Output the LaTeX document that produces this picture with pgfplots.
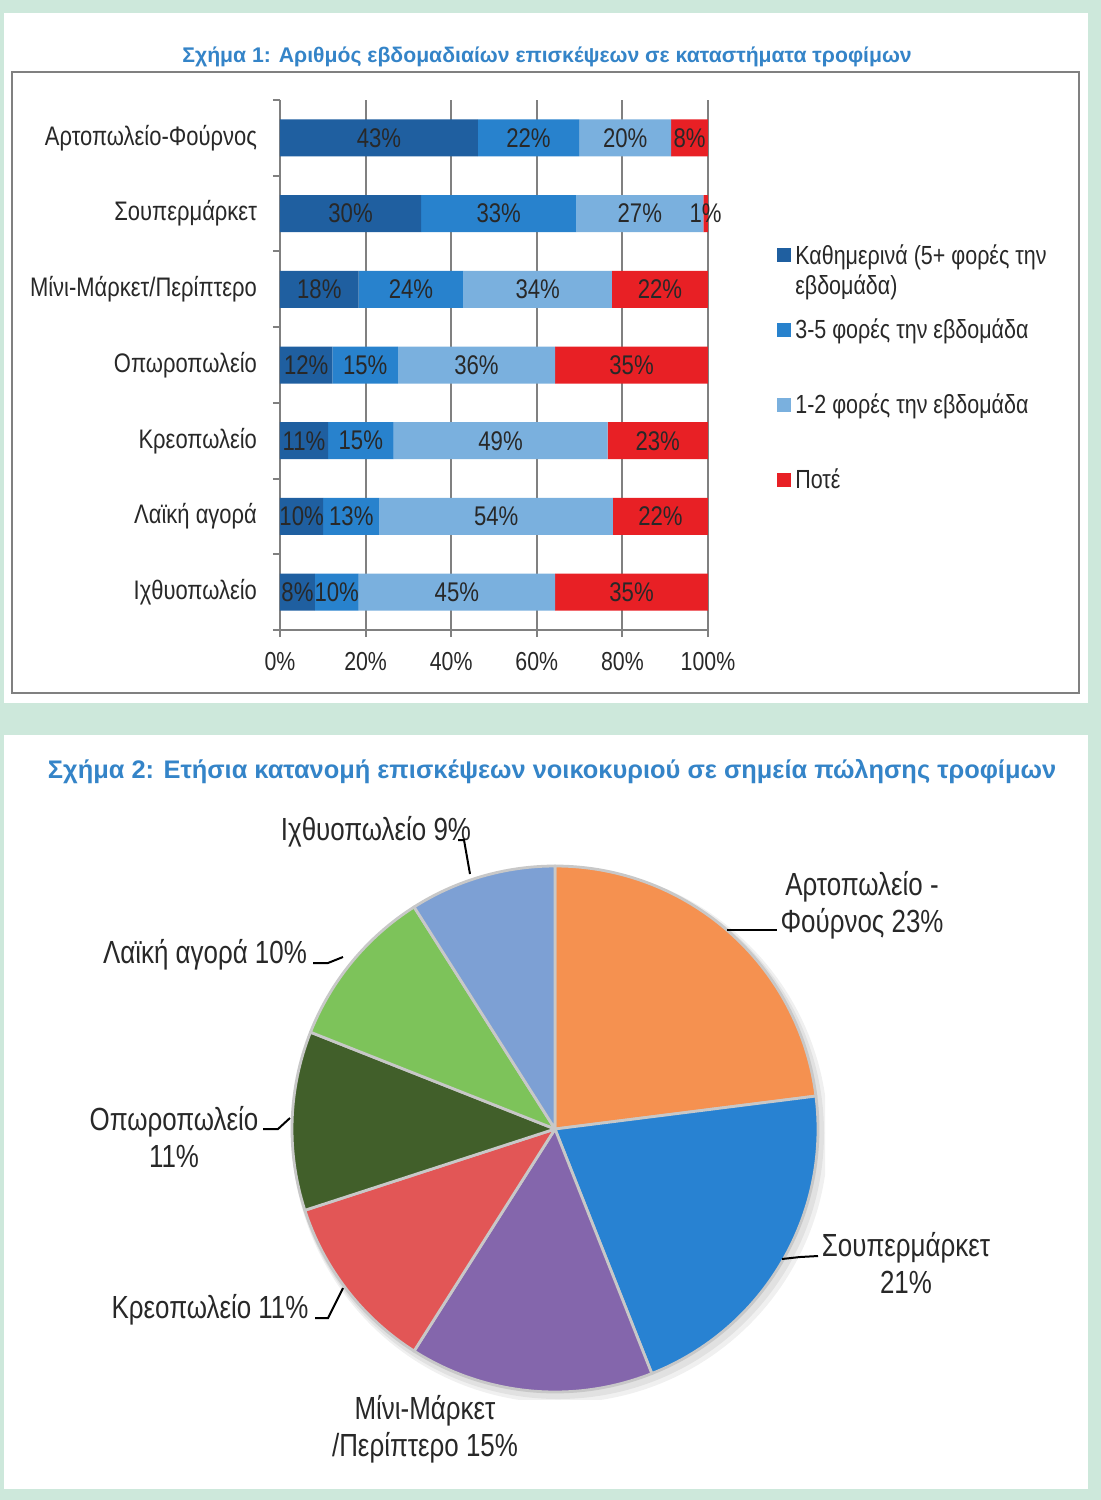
\documentclass[border=0pt]{standalone}
\usepackage{pgfplots}
\pgfplotsset{compat=1.18}
\usepackage{pgfplotstable}
\usepackage{fontspec}
\setmainfont{Liberation Sans}[FakeStretch=0.82]
\newfontfamily\narrowfont{Liberation Sans}[FakeStretch=0.81]
\newfontfamily\titlefont{Liberation Sans}

\definecolor{mint}{RGB}{205,232,219}
\definecolor{ttlblue}{RGB}{52,132,200}
\definecolor{dkblue}{RGB}{31,95,160}
\definecolor{mdblue}{RGB}{40,130,205}
\definecolor{ltblue}{RGB}{122,176,222}
\definecolor{barred}{RGB}{232,32,37}
\definecolor{axgrey}{RGB}{128,128,128}
\definecolor{txt}{RGB}{40,40,40}
\definecolor{pieorange}{RGB}{245,145,80}
\definecolor{pieblue}{RGB}{40,130,210}
\definecolor{piepurple}{RGB}{132,102,172}
\definecolor{piered}{RGB}{226,86,86}
\definecolor{piedkgreen}{RGB}{65,95,42}
\definecolor{pieltgreen}{RGB}{125,195,90}
\definecolor{pieltblue}{RGB}{125,160,212}
\definecolor{slicegrey}{RGB}{200,200,200}

\pgfplotsset{sqlegend/.style={legend image code/.code={\fill[##1] (0pt,-3.5pt) rectangle (7pt,3.5pt);}}}

% weekly visits, raw percentages per row (y = 6 is the top row)
\pgfplotstableread{
y a  b  c  d
6 43 22 20 8
5 30 33 27 1
4 18 24 34 22
3 12 15 36 35
2 11 15 49 23
1 10 13 54 22
0 8  10 45 35
}\bars
\pgfplotstablecreatecol[create col/expr={\thisrow{a}+\thisrow{b}+\thisrow{c}+\thisrow{d}}]{tot}{\bars}

\begin{document}
\begin{tikzpicture}
% 1 px of the reference = 0.5pt, y downwards inside this scope
\begin{scope}[x=0.5pt,y=-0.5pt]
\fill[mint] (0,0) rectangle (1101,1500);
\useasboundingbox (0,0) rectangle (1101,1500);
\fill[white] (4,13) rectangle (1088,703);
\fill[white] (4,735) rectangle (1088,1489);
\draw[axgrey, line width=1pt] (12,72) rectangle (1079,693);
\node[font=\titlefont\bfseries\fontsize{10.6}{13}\selectfont, text=ttlblue] at (547,57)
  {Σχήμα 1: Αριθμός εβδομαδιαίων επισκέψεων σε καταστήματα τροφίμων};
\node[font=\titlefont\bfseries\fontsize{12.7}{15}\selectfont, text=ttlblue] at (552,772)
  {Σχήμα 2: Ετήσια κατανομή επισκέψεων νοικοκυριού σε σημεία πώλησης τροφίμων};
\end{scope}

% stacked bars, axis box from (280,100) to (708,630) px
\begin{axis}[
  at={(140pt,-315pt)}, anchor=south west,
  scale only axis, width=214pt, height=265pt,
  xbar stacked, bar width=18.5pt,
  xmin=0, xmax=100, ymin=-0.5, ymax=6.5,
  axis x line*=bottom, axis y line*=left,
  axis line style={draw=axgrey, line width=1.3pt, -},
  xtick={0,20,...,100}, xticklabels={0\%,20\%,40\%,60\%,80\%,100\%},
  ytick={0,...,6},
  yticklabels={Ιχθυοπωλείο,Λαϊκή αγορά,Κρεοπωλείο,Οπωροπωλείο,Μίνι-Μάρκετ/Περίπτερο,Σουπερμάρκετ,Αρτοπωλείο-Φούρνος},
  minor ytick={-0.5,0.5,...,6.5},
  tick align=outside, major tick length=3.5pt, minor tick length=3.5pt,
  tick style={draw=axgrey, line width=1pt},
  major y tick style={draw=none},
  xmajorgrids, grid style={draw=axgrey, line width=1pt},
  xticklabel style={font=\fontsize{13}{15}\selectfont, text=txt, yshift=-4pt},
  yticklabel style={font=\fontsize{13.4}{16}\selectfont, text=txt, xshift=-4.5pt},
  legend style={at={(1.147,0.746)}, anchor=north west, draw=none, fill=none,
    font=\fontsize{13.1}{15}\selectfont, text=txt, row sep=22pt},
  legend cell align=left,
]
\addplot[fill=dkblue, draw=none, sqlegend] table[x expr={100*\thisrow{a}/\thisrow{tot}}, y=y]{\bars};
\addlegendentry{\raisebox{0pt}[\height][0pt]{\begin{tabular}[t]{@{}l@{}}Καθημερινά (5+ φορές την\\εβδομάδα)\end{tabular}}}
\addplot[fill=mdblue, draw=none, sqlegend] table[x expr={100*\thisrow{b}/\thisrow{tot}}, y=y]{\bars};
\addlegendentry{3-5 φορές την εβδομάδα}
\addplot[fill=ltblue, draw=none, sqlegend] table[x expr={100*\thisrow{c}/\thisrow{tot}}, y=y]{\bars};
\addlegendentry{1-2 φορές την εβδομάδα}
\addplot[fill=barred, draw=none, sqlegend] table[x expr={100*\thisrow{d}/\thisrow{tot}}, y=y]{\bars};
\addlegendentry{Ποτέ}
\end{axis}

% value labels in the middle of each segment
\begin{axis}[
  at={(140pt,-315pt)}, anchor=south west,
  scale only axis, width=214pt, height=265pt,
  xmin=0, xmax=100, ymin=-0.5, ymax=6.5, hide axis,
  nodes near coords={\pgfplotspointmeta\%}, point meta=explicit symbolic,
  nodes near coords align=center,
  every node near coord/.append style={font=\fontsize{13.5}{15}\selectfont, text=txt, inner sep=0pt},
]
\addplot[only marks, mark=*, mark size=0pt, mark options={draw=none,fill=none}]
  table[x expr={100*(\thisrow{a}/2)/\thisrow{tot}}, y=y, meta=a]{\bars};
\addplot[only marks, mark=*, mark size=0pt, mark options={draw=none,fill=none}]
  table[x expr={100*(\thisrow{a}+\thisrow{b}/2)/\thisrow{tot}}, y=y, meta=b]{\bars};
\addplot[only marks, mark=*, mark size=0pt, mark options={draw=none,fill=none}]
  table[x expr={100*(\thisrow{a}+\thisrow{b}+\thisrow{c}/2)/\thisrow{tot}}, y=y, meta=c]{\bars};
\addplot[only marks, mark=*, mark size=0pt, mark options={draw=none,fill=none}]
  table[x expr={100*(\thisrow{a}+\thisrow{b}+\thisrow{c}+\thisrow{d}/2)/\thisrow{tot}}, y=y, meta=d]{\bars};
\end{axis}

% pie: slices clockwise from the top, centre at (555,1129) px
\begin{axis}[
  at={(277.5pt,-564.5pt)}, anchor=center,
  scale only axis, width=270pt, height=270pt,
  xmin=-270, xmax=270, ymin=-270, ymax=270, hide axis,
]
\fill[black, opacity=0.06] (axis cs:5,-6) circle[radius=134pt];
\fill[black, opacity=0.06] (axis cs:3,-4) circle[radius=133pt];
\gdef\startang{90}
\foreach \v/\c in {23/pieorange,21/pieblue,15/piepurple,11/piered,11/piedkgreen,10/pieltgreen,9/pieltblue}{
  \pgfmathsetmacro\endang{\startang-3.6*\v}
  \edef\slice{\noexpand\filldraw[fill=\c, draw=slicegrey, line width=1.4pt, line join=round]
    (axis cs:0,0) -- ++(\startang:131.5pt) arc[start angle=\startang, end angle=\endang, radius=131.5pt] -- cycle;}
  \slice
  \xdef\startang{\endang}
}
\end{axis}

\begin{scope}[x=0.5pt,y=-0.5pt]
\begin{scope}[every node/.style={font=\narrowfont\fontsize{16}{18.5}\selectfont, text=txt, align=center, inner sep=0pt}]
\node at (376,832) {Ιχθυοπωλείο 9\%};
\node at (862,905) {Αρτοπωλείο -\\Φούρνος 23\%};
\node at (205,955) {Λαϊκή αγορά 10\%};
\node at (174,1137) {Οπωροπωλείο\\11\%};
\node at (210,1310) {Κρεοπωλείο 11\%};
\node at (906,1263) {Σουπερμάρκετ\\21\%};
\node at (425,1429) {Μίνι-Μάρκετ\\/Περίπτερο 15\%};
\end{scope}
\begin{scope}[black, line width=1pt]
\draw (458,840) -- (464,840) -- (470,874);
\draw (727,930) -- (777,930);
\draw (782,1259) -- (800,1257) -- (818,1256);
\draw (313,963) -- (328,963) -- (343,957);
\draw (263,1129) -- (278,1129) -- (290,1118);
\draw (315,1318) -- (328,1318) -- (343,1288);
\end{scope}
\end{scope}
\end{tikzpicture}
\end{document}
